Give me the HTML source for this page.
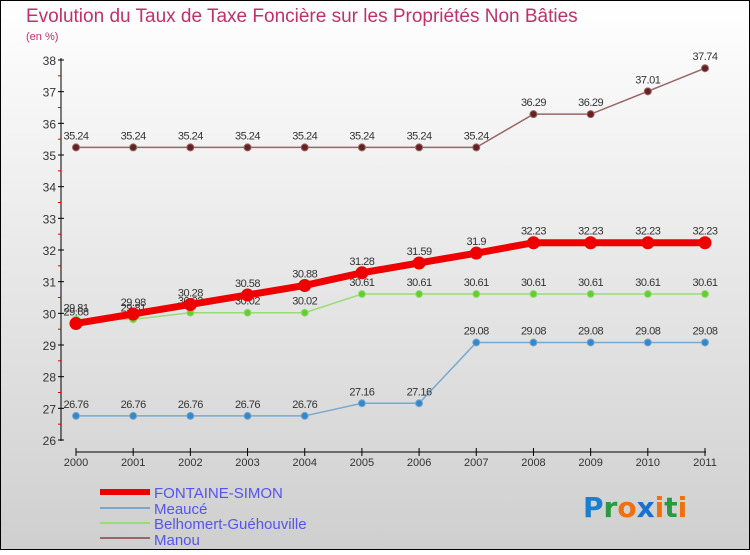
<!DOCTYPE html>
<html><head><meta charset="utf-8"><style>
body{margin:0}
#c{width:750px;height:550px;position:relative;font-family:"Liberation Sans",sans-serif;}
</style></head><body>
<div id="c">
<svg id="s" width="750" height="550" xmlns="http://www.w3.org/2000/svg">
<defs><linearGradient id="bg" x1="0" y1="0" x2="0" y2="1"><stop offset="0" stop-color="#ffffff"/><stop offset="1" stop-color="#cfcfcf"/></linearGradient></defs>
<rect x="0.5" y="0.5" width="749" height="549" fill="url(#bg)" stroke="#000"/>
<text x="26" y="22" font-size="19" fill="#c0306a">Evolution du Taux de Taxe Foncière sur les Propriétés Non Bâties</text>
<text x="26" y="40" font-size="11" fill="#c0306a">(en %)</text>
<g id="axes"></g><g id="series"></g>
<g>
<line x1="100" y1="492" x2="150" y2="492" stroke="#ee0000" stroke-width="6"/>
<text x="154" y="498" font-size="15" fill="#5555ee">FONTAINE-SIMON</text>
<line x1="100" y1="508" x2="150" y2="508" stroke="#7aa8cc" stroke-width="2"/>
<text x="154" y="514" font-size="15" fill="#5555ee">Meaucé</text>
<line x1="100" y1="523" x2="150" y2="523" stroke="#99dd77" stroke-width="2"/>
<text x="154" y="529" font-size="15" fill="#5555ee">Belhomert-Guéhouville</text>
<line x1="100" y1="538" x2="150" y2="538" stroke="#996666" stroke-width="2"/>
<text x="154" y="545" font-size="15" fill="#5555ee">Manou</text>
</g>
<g font-size="28" font-weight="bold" font-family="'DejaVu Sans',sans-serif">
<text x="583" y="517"><tspan fill="#1a7fd0">P</tspan><tspan fill="#2a9a40">r</tspan><tspan fill="#f07010">o</tspan><tspan fill="#1a6fd0">x</tspan><tspan fill="#f07010">i</tspan><tspan fill="#2a9a40">t</tspan><tspan fill="#f07010">i</tspan></text>
</g>
</svg></div>
<script>
const years=["2000","2001","2002","2003","2004","2005","2006","2007","2008","2009","2010","2011"];
const yTicks=[26,27,28,29,30,31,32,33,34,35,36,37,38];
const fontaine=[29.68,29.98,30.28,30.58,30.88,31.28,31.59,31.9,32.23,32.23,32.23,32.23];
const meauce=[26.76,26.76,26.76,26.76,26.76,27.16,27.16,29.08,29.08,29.08,29.08,29.08];
const belhomert=[29.81,29.81,30.02,30.02,30.02,30.61,30.61,30.61,30.61,30.61,30.61,30.61];
const manou=[35.24,35.24,35.24,35.24,35.24,35.24,35.24,35.24,36.29,36.29,37.01,37.74];
const NS="http://www.w3.org/2000/svg";
const x=i=>76+i*(705-76)/11;
const y=v=>440-(v-26)*(440-60)/12;
function mk(t,a,p){const e=document.createElementNS(NS,t);for(const k in a)e.setAttribute(k,a[k]);p.appendChild(e);return e;}
const ax=document.getElementById('axes');
let l=mk('line',{x1:61,y1:58,x2:61,y2:441,stroke:'#000'},ax);


l=mk('line',{x1:76,y1:452,x2:706,y2:452,stroke:'#000'},ax);


yTicks.forEach((v,i)=>{
 mk('line',{x1:58,y1:y(v),x2:64,y2:y(v),stroke:'#000'},ax);
 if(i<yTicks.length-1)mk('line',{x1:58,y1:y(v+0.5),x2:61,y2:y(v+0.5),stroke:'#d00'},ax);
 const t=mk('text',{x:56,y:y(v)+5,'font-size':12,'text-anchor':'end',fill:'#333'},ax);
 t.textContent=v;
 
 
});
years.forEach((yr,i)=>{
 mk('line',{x1:x(i),y1:448,x2:x(i),y2:456,stroke:'#000'},ax);
 const t=mk('text',{x:x(i),y:466,'font-size':11,'text-anchor':'middle',fill:'#333'},ax);
 t.textContent=yr;
 
 
});
const sg=document.getElementById('series');
function draw(vals,name,color,dot,w,r){
 const g=mk('g',{},sg);
 
 
 const p=mk('polyline',{points:vals.map((v,i)=>x(i)+','+y(v)).join(' '),fill:'none',stroke:color,'stroke-width':w},g);
 
 
 vals.forEach((v,i)=>{
  const c=mk('circle',{cx:x(i),cy:y(v),r:r,fill:dot,stroke:color,'stroke-width':1},g);
  
  
  const t=mk('text',{x:x(i),y:y(v)-8,'font-size':11,'text-anchor':'middle',fill:'#333','letter-spacing':'-0.5'},g);
  t.textContent=v;
  
  
 });
}
draw(manou,'manou','#996666','#662222',1.5,3.5);
draw(meauce,'meauce','#7aa8cc','#3388cc',1.5,3.5);
draw(belhomert,'belhomert','#99dd77','#66cc33',1.5,3.5);
draw(fontaine,'fontaine-simon','#ee0000','#ee0000',7,6);
</script>
</body></html>
